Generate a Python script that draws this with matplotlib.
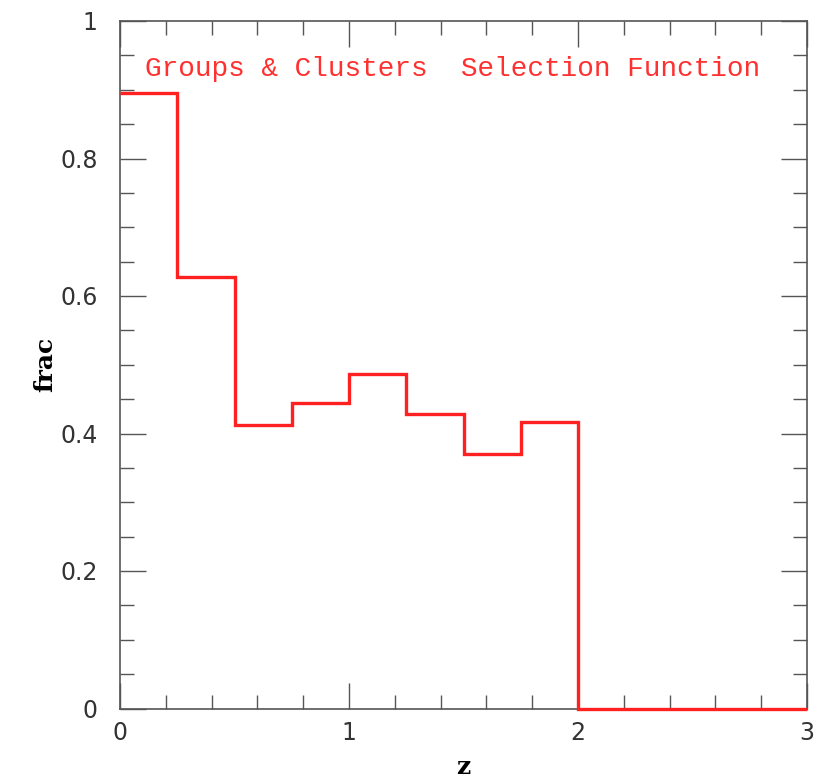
import matplotlib
matplotlib.use("Agg")
import matplotlib.pyplot as plt
from matplotlib.ticker import MultipleLocator

# Selection fraction per redshift bin
z_edges = [0.0, 0.25, 0.5, 0.75, 1.0, 1.25, 1.5, 1.75, 2.0, 3.0]
frac = [0.895, 0.628, 0.412, 0.445, 0.487, 0.428, 0.370, 0.417, 0.0]

x_ticks = [0, 1, 2, 3]
y_ticks = [0, 0.2, 0.4, 0.6, 0.8, 1]
y_tick_labels = ["0", "0.2", "0.4", "0.6", "0.8", "1"]

fig = plt.figure(figsize=(8.27, 7.79), dpi=100)
ax = fig.add_axes([120 / 827, 1 - 708.5 / 779, 687 / 827, 687.5 / 779])

ax.stairs(frac, z_edges, color="#ff2020", linewidth=2.4, baseline=None,
          clip_on=False, zorder=5)

ax.set_xlim(0, 3)
ax.set_ylim(0, 1)
ax.set_xticks(x_ticks)
ax.set_yticks(y_ticks)
ax.set_yticklabels(y_tick_labels)
ax.xaxis.set_minor_locator(MultipleLocator(0.2))
ax.yaxis.set_minor_locator(MultipleLocator(0.05))

ax.tick_params(which="both", direction="in", top=True, right=True,
               color="#555555", width=1.0)
ax.tick_params(which="major", length=19, labelsize=17, labelcolor="#333333")
ax.tick_params(which="minor", length=10)
ax.tick_params(axis="x", which="major", pad=9)
ax.tick_params(axis="y", which="major", pad=16)
for s in ax.spines.values():
    s.set_color("#555555")
    s.set_linewidth(1.2)

ax.set_xlabel("z", fontsize=18, fontweight="bold", family="DejaVu Serif", labelpad=7)
ax.set_ylabel("frac", fontsize=18, fontweight="bold", family="DejaVu Serif", labelpad=2)

ax.text(0.037, 0.93, "Groups & Clusters  Selection Function", transform=ax.transAxes,
        color="#ff3030", fontsize=20, family="Liberation Mono", va="center", ha="left")

fig.savefig("out.png", dpi=100)
